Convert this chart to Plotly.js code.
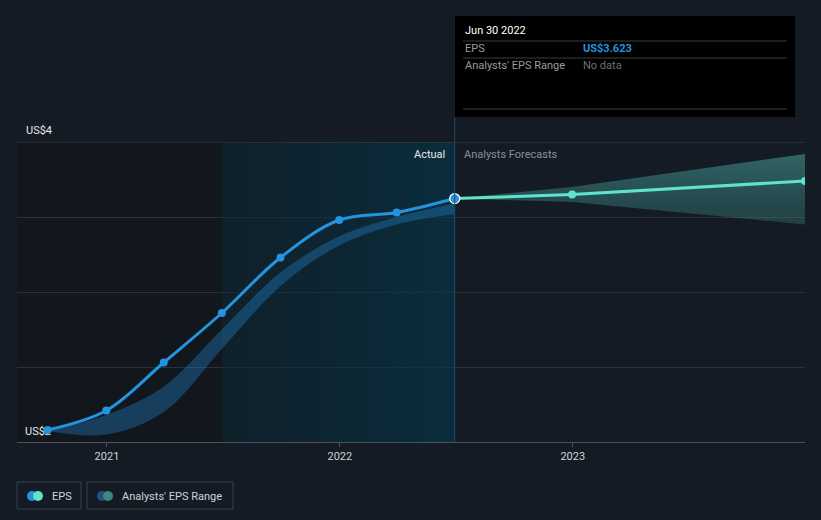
<!DOCTYPE html>
<html>
<head>
<meta charset="utf-8">
<script src="https://cdn.plot.ly/plotly-3.0.1.min.js"></script>
<style>
html,body{margin:0;padding:0;background:#151b24;}
#chart{width:821px;height:520px;}
</style>
</head>
<body>
<div id="chart"></div>
<script>
// ---- data ----
const epsDates = ['2020-09-30','2020-12-31','2021-03-31','2021-06-30','2021-09-30','2021-12-31','2022-03-31','2022-06-30'];
const epsValues = [2.08, 2.21, 2.53, 2.86, 3.23, 3.48, 3.53, 3.623];
const pastRangeHigh = [2.08, 2.18, 2.37, 2.75, 3.13, 3.37, 3.50, 3.59];
const pastRangeLow  = [2.073, 2.05, 2.2, 2.62, 3.04, 3.31, 3.45, 3.52];

const fcDates = ['2022-06-30','2022-12-31','2023-12-31'];
const fcValues = [3.623, 3.65, 3.74];
const fcHigh = [3.623, 3.70, 3.92];
const fcLow  = [3.623, 3.60, 3.45];

const xTickVals = ['2021-01-01','2022-01-01','2023-01-01'];
const xTickText = ['2021','2022','2023'];
const yTickVals = [2, 2.5, 3, 3.5, 4];
const yTickText = ['US$2', '', '', '', 'US$4'];

const xRange = ['2020-08-13','2023-12-31'];
const yRange = [2, 4];
const actualStart = '2021-06-30';
const hoverDate = '2022-06-30';

// ---- layout geometry helpers ----
const W = 821, H = 520;
const M = {l:17, r:16, t:142, b:78};
const pw = W - M.l - M.r, ph = H - M.t - M.b;
const px = x => (x - M.l) / pw;
const py = y => (H - M.b - y) / ph;
const t0 = Date.parse(xRange[0]), t1 = Date.parse(xRange[1]);
const dateToPaper = d => (Date.parse(d) - t0) / (t1 - t0);

const BLUE = '#2394df', TEAL = '#5fe3cc';
const FONT = 'Roboto, "Open Sans", sans-serif';

const traces = [
  // actual region gradient
  {
    x: [actualStart, hoverDate, hoverDate, actualStart, actualStart],
    y: [yRange[0], yRange[0], yRange[1], yRange[1], yRange[0]],
    mode: 'lines', line: {width: 0}, fill: 'toself',
    fillgradient: {type: 'horizontal', colorscale: [[0, 'rgba(9,37,48,0.5)'], [1, 'rgba(4,56,76,0.62)']]},
    hoverinfo: 'skip', showlegend: false
  },
  // past range band
  {x: epsDates, y: pastRangeLow, mode: 'lines', line: {width: 0, shape: 'spline'}, hoverinfo: 'skip', showlegend: false},
  {x: epsDates, y: pastRangeHigh, mode: 'lines', line: {width: 0, shape: 'spline'}, fill: 'tonexty',
   fillcolor: 'rgba(35,130,200,0.38)', hoverinfo: 'skip', showlegend: false},
  // forecast band
  {x: fcDates, y: fcLow, mode: 'lines', line: {width: 0}, hoverinfo: 'skip', showlegend: false},
  {x: fcDates, y: fcHigh, mode: 'lines', line: {width: 0}, fill: 'tonexty',
   fillgradient: {type: 'vertical', colorscale: [[0, 'rgba(70,170,160,0.25)'], [1, 'rgba(80,190,180,0.45)']]},
   fillcolor: 'rgba(75,180,170,0.35)', hoverinfo: 'skip', showlegend: false},
  // forecast line
  {x: fcDates, y: fcValues, mode: 'lines+markers', line: {color: TEAL, width: 3},
   marker: {size: 8, color: TEAL}, hoverinfo: 'skip', showlegend: false},
  // EPS line
  {x: epsDates, y: epsValues, mode: 'lines+markers', line: {color: BLUE, width: 3, shape: 'spline'},
   marker: {size: 8, color: BLUE}, hoverinfo: 'skip', showlegend: false},
  // hovered point
  {x: [epsDates[epsDates.length-1]], y: [epsValues[epsValues.length-1]], mode: 'markers',
   marker: {size: 10, color: BLUE, line: {color: '#ffffff', width: 1.2}}, hoverinfo: 'skip', showlegend: false}
];

const hx = dateToPaper(hoverDate);
const shapes = [
  // darker pre-actual region
  {type: 'rect', xref: 'paper', yref: 'paper', x0: 0, x1: dateToPaper(actualStart), y0: 0, y1: 1,
   fillcolor: '#12161d', line: {width: 0}, layer: 'below'},
  // top gridline
  {type: 'line', xref: 'paper', yref: 'y', x0: 0, x1: 1, y0: yRange[1], y1: yRange[1],
   line: {color: '#3a4048', width: 1}},
  // hover line
  {type: 'line', xref: 'paper', yref: 'paper', x0: hx, x1: hx, y0: 0, y1: py(117),
   line: {color: '#1d4d5c', width: 1}},
  // tooltip box
  {type: 'rect', xref: 'paper', yref: 'paper', x0: px(455), x1: px(795), y0: py(117), y1: py(16),
   fillcolor: '#000000', line: {width: 0}},
  {type: 'line', xref: 'paper', yref: 'paper', x0: px(463), x1: px(787), y0: py(41), y1: py(41), line: {color: '#3d3d3d', width: 1}},
  {type: 'line', xref: 'paper', yref: 'paper', x0: px(463), x1: px(787), y0: py(58), y1: py(58), line: {color: '#3d3d3d', width: 1}},
  {type: 'line', xref: 'paper', yref: 'paper', x0: px(463), x1: px(787), y0: py(109), y1: py(109), line: {color: '#3d3d3d', width: 1}},
  // legend boxes
  {type: 'rect', xref: 'paper', yref: 'paper', x0: px(17), x1: px(81), y0: py(509), y1: py(482),
   fillcolor: 'rgba(0,0,0,0)', line: {color: '#3b414b', width: 1}},
  {type: 'rect', xref: 'paper', yref: 'paper', x0: px(87), x1: px(233), y0: py(509), y1: py(482),
   fillcolor: 'rgba(0,0,0,0)', line: {color: '#3b414b', width: 1}},
  // legend icons
  {type: 'circle', xref: 'paper', yref: 'paper', x0: px(27), x1: px(37), y0: py(501), y1: py(491), fillcolor: BLUE, line: {width: 0}},
  {type: 'circle', xref: 'paper', yref: 'paper', x0: px(33), x1: px(43), y0: py(501), y1: py(491), fillcolor: TEAL, line: {width: 0}},
  {type: 'circle', xref: 'paper', yref: 'paper', x0: px(97), x1: px(107), y0: py(501), y1: py(491), fillcolor: '#1f5480', line: {width: 0}},
  {type: 'circle', xref: 'paper', yref: 'paper', x0: px(103), x1: px(113), y0: py(501), y1: py(491), fillcolor: '#3e8780', line: {width: 0}}
];

const ann = (text, x, y, opts) => Object.assign({
  text, xref: 'paper', yref: 'paper', x, y, xanchor: 'left', yanchor: 'middle',
  showarrow: false, font: {family: FONT, size: 11, color: '#cfd3d8'}
}, opts || {});

const annotations = [
  // top y label (outside range so drawn as annotation)
  {text: yTickText[yTickText.length-1], xref: 'paper', yref: 'y', x: px(24), y: yTickVals[yTickVals.length-1],
   xanchor: 'left', yanchor: 'bottom', yshift: 3, showarrow: false, font: {family: FONT, size: 11, color: '#e6e8ea'}},
  ann('Jun 30 2022', px(463), py(31), {font: {family: FONT, size: 11, color: '#ffffff'}}),
  ann('EPS', px(463), py(49), {font: {family: FONT, size: 11, color: '#9a9a9a'}}),
  ann('<b>US$3.623</b>', px(581), py(49), {font: {family: FONT, size: 11, color: BLUE}}),
  ann("Analysts' EPS Range", px(463), py(66), {font: {family: FONT, size: 11, color: '#9a9a9a'}}),
  ann('No data', px(581), py(66), {font: {family: FONT, size: 11, color: '#6f6f6f'}}),
  ann('Actual', hx, py(154), {xanchor: 'right', xshift: -8, font: {family: FONT, size: 11, color: '#e6e8ea'}}),
  ann('Analysts Forecasts', hx, py(154), {xanchor: 'left', xshift: 7, font: {family: FONT, size: 11, color: '#8a8f96'}}),
  ann('EPS', px(50), py(496), {font: {family: FONT, size: 11, color: '#cfd3d8'}}),
  ann("Analysts' EPS Range", px(120), py(496), {font: {family: FONT, size: 11, color: '#cfd3d8'}})
];

const layout = {
  width: W, height: H,
  margin: M,
  paper_bgcolor: '#151b24',
  plot_bgcolor: '#151b24',
  showlegend: false,
  font: {family: FONT, size: 11, color: '#cfd3d8'},
  xaxis: {
    type: 'date', range: xRange, tickvals: xTickVals, ticktext: xTickText,
    showgrid: false, zeroline: false, showline: true, linecolor: '#4c525b', linewidth: 1,
    ticks: 'outside', ticklen: 4, tickcolor: '#4c525b',
    tickfont: {family: FONT, size: 11, color: '#cfd3d8'}, fixedrange: true
  },
  yaxis: {
    range: yRange, tickvals: yTickVals, ticktext: yTickText,
    ticklabelposition: 'inside top', ticklabelstandoff: 5, ticklabelshift: -3,
    showgrid: true, gridcolor: '#2b313a', gridwidth: 1,
    zeroline: false, showline: false, ticks: '', layer: 'below traces',
    tickfont: {family: FONT, size: 11, color: '#e6e8ea'}, fixedrange: true
  },
  shapes, annotations
};

Plotly.newPlot('chart', traces, layout, {displayModeBar: false, staticPlot: true});
</script>
</body>
</html>
